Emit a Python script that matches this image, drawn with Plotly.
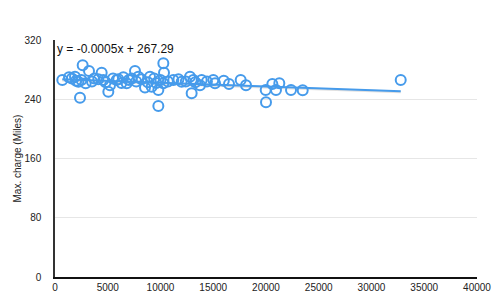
import plotly.graph_objects as go

mileage = [692, 1327, 1896, 2623, 2370, 2212, 2906, 3223, 3728, 4424, 5055, 5213, 4582, 5845,
           6477, 6793, 7583, 7266, 7899, 8531, 9005, 9163, 9795, 10269, 10332, 9795, 10269,
           11214, 12005, 12795, 12953, 13111, 13744, 13902, 15006, 15166, 16493, 17600, 18104,
           19970, 20000, 20600, 20948, 21263, 22370, 23480, 32770,
           1600, 2000, 2500, 3500, 4100, 4800, 5500, 6000, 6300, 7000, 7700, 8200, 8800,
           9400, 9600, 10000, 10700, 11700, 12400, 13300, 14400, 16000]
max_charge = [266, 269.6, 270.4, 286, 242, 263.7, 261.5, 278, 268, 275.8, 250, 259, 266, 266,
              269.6, 261.5, 278, 268, 270.4, 256, 270.4, 257, 230.8, 288.5, 275.8, 252.5, 261.5,
              266, 263.7, 270.4, 248, 266, 259, 266, 266, 261.5, 260.6, 266, 259,
              252.5, 236, 260.6, 252.5, 261.5, 252.5, 252, 266,
              268, 265, 266, 264, 267, 263, 268, 267, 262, 266, 264, 267, 263,
              268, 262, 266, 264, 267, 264, 263, 264, 265]

slope = -0.0005
intercept = 267.29
equation_label = "y = -0.0005x + 267.29"

x_ticks = [0, 5000, 10000, 15000, 20000, 25000, 30000, 35000, 40000]
y_ticks = [0, 80, 160, 240, 320]
y_title = "Max. charge (Miles)"

blue = "rgb(70,155,235)"

x_line = [min(mileage), max(mileage)]
y_line = [slope * v + intercept for v in x_line]

fig = go.Figure()
fig.add_trace(go.Scatter(x=x_line, y=[v - 1.2 for v in y_line], mode="lines",
                         line=dict(color="rgba(0,0,0,0.12)", width=2.5),
                         hoverinfo="skip", showlegend=False))
fig.add_trace(go.Scatter(x=x_line, y=y_line, mode="lines",
                         line=dict(color=blue, width=2), showlegend=False))
fig.add_trace(go.Scatter(x=mileage, y=max_charge, mode="markers",
                         marker=dict(symbol="circle-open", size=10,
                                     line=dict(color=blue, width=2), color=blue),
                         showlegend=False))

fig.add_annotation(text=equation_label, xref="paper", yref="paper", x=0.0, y=1.0,
                   xanchor="left", yanchor="top", showarrow=False, xshift=0, yshift=0,
                   font=dict(family="Liberation Sans, Arial", size=12, color="#111"))
fig.add_annotation(text=y_title, xref="paper", yref="paper", x=0, y=0.5,
                   xanchor="center", yanchor="middle", showarrow=False, textangle=-90,
                   xshift=-38, font=dict(family="Liberation Sans, Arial", size=10, color="#222"))

fig.update_layout(
    width=499, height=298,
    margin=dict(l=55, r=22, t=40, b=21),
    paper_bgcolor="white", plot_bgcolor="white",
    font=dict(family="Liberation Sans, Arial", size=10, color="#222"),
)
fig.update_xaxes(range=[0, 40000], tickvals=x_ticks, ticktext=[str(v) for v in x_ticks],
                 showgrid=False, zeroline=False, showline=True, linecolor="#111", linewidth=1.5,
                 ticks="", tickfont=dict(size=10), automargin=False)
fig.update_yaxes(range=[0, 320], tickvals=y_ticks, ticktext=[str(v) for v in y_ticks],
                 showgrid=True, gridcolor="#e6e6e6", gridwidth=1, zeroline=False,
                 showline=True, linecolor="#333", linewidth=1.5, ticks="", ticklabelstandoff=10,
                 tickfont=dict(size=10), automargin=False)

fig.write_html("out.html")
